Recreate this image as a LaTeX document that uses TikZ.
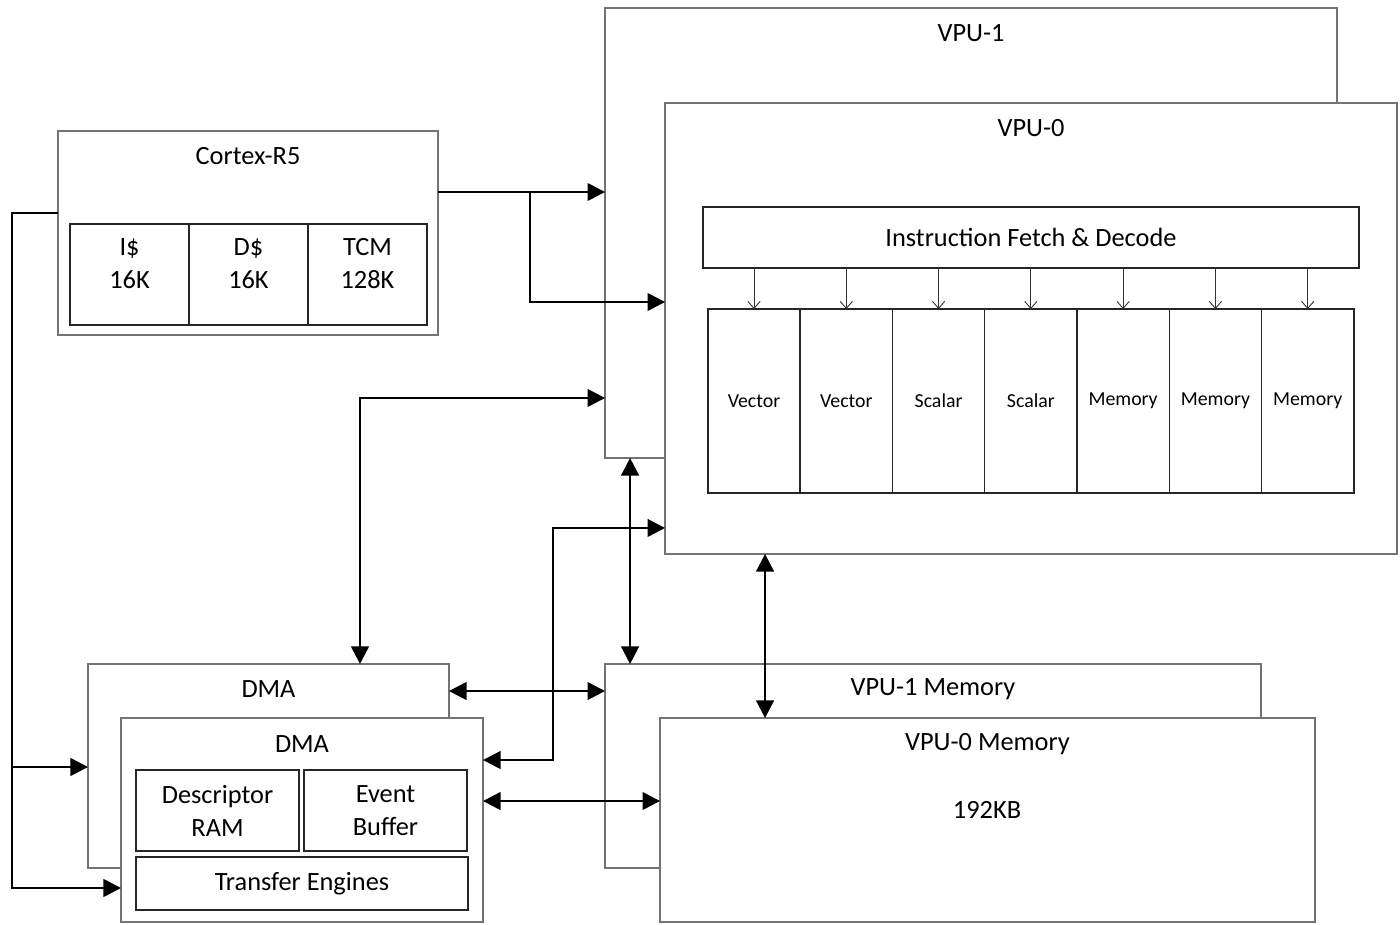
\documentclass[tikz,border=0pt]{standalone}
\usepackage{fontspec}
\setmainfont{Carlito}
\usetikzlibrary{positioning, arrows.meta}
\tikzset{
	box/.style= {
		rectangle,
		draw=black!55,
		line width=1.1pt,
		fill=white,
		inner sep=0, outer sep=0
	},
	part/.style= {
		rectangle,
		draw=black!85,
		line width=0.8pt,
		fill=white,
		align=center,
		inner sep=0, outer sep=0,
		font=\fontsize{15}{18.7}\selectfont
	},
	cache/.style={part, minimum width=2.38cm, minimum height=2.02cm, text depth=0.45cm},
	unit/.style={part, minimum width=1.846cm, minimum height=3.68cm, font=\fontsize{11.3}{13}\selectfont},
	title/.style={font=\fontsize{15}{18.7}\selectfont, inner sep=0},
	link/.style={line width=1.4pt, -{Triangle[length=10pt, width=10pt]}},
	both/.style={line width=1.4pt, {Triangle[length=10pt, width=10pt]}-{Triangle[length=10pt, width=10pt]}},
	feed/.style={line width=0.5pt, draw=black!80, -{Straight Barb[length=4pt, width=7pt]}},
}

\begin{document}
\begin{tikzpicture}[x=0.02cm, y=-0.02cm]
	\useasboundingbox (0,0) rectangle (1400,924);
	
	% VPU stack
	\node (vpu1)[box, minimum width=14.64cm, minimum height=9cm] at (971,233) {};
	\node (vpu1title)[title] at ([yshift=-0.5cm]vpu1.north) {VPU-1};
	\node (vpu0)[box, minimum width=14.64cm, minimum height=9.02cm] at (1031,328.5) {};
	\node (vpu0title)[title] at ([yshift=-0.5cm]vpu0.north) {VPU-0};
	\node (ifd)[part, minimum width=13.12cm, minimum height=1.22cm] at (1031,237.5) {Instruction Fetch \& Decode};
	
	\node (unit1)[unit] at (754,401) {Vector};
	\foreach[count=\i from 1] \j/\name in {2/Vector, 3/Scalar, 4/Scalar, 5/Memory, 6/Memory, 7/Memory}
	{
		\node (unit\j)[unit, right=0 of unit\i]{\name};
	}
	\foreach \i in {1,...,7}
	{
		\draw[feed] (ifd.south -| unit\i.north) to (unit\i.north);
	}
	
	% Cortex
	\node (cortex)[box, minimum width=7.6cm, minimum height=4.08cm] at (248,233) {};
	\node (cortextitle)[title] at ([yshift=-0.5cm]cortex.north) {Cortex-R5};
	\node (icache)[cache] at (129.5,274.5) {I\$\\16K};
	\node (dcache)[cache, right=0 of icache] {D\$\\16K};
	\node (tcm)[cache, right=0 of dcache] {TCM\\128K};
	
	% DMA stack
	\node (dmab)[box, minimum width=7.22cm, minimum height=4.08cm] at (268.5,766) {};
	\node (dmabtitle)[title] at ([yshift=-0.5cm]dmab.north) {DMA};
	\node (dmaf)[box, minimum width=7.24cm, minimum height=4.08cm] at (302,820) {};
	\node (dmaftitle)[title] at ([yshift=-0.52cm]dmaf.north) {DMA};
	\node (desc)[part, minimum width=3.26cm, minimum height=1.62cm] at (217.5,810.5) {Descriptor\\RAM};
	\node (event)[part, minimum width=3.26cm, minimum height=1.62cm, right=0.1cm of desc] {Event\\Buffer};
	\node (xfer)[part, minimum width=6.64cm, minimum height=1.06cm] at (302,883.5) {Transfer Engines};
	
	% memories
	\node (vpu1m)[box, minimum width=13.12cm, minimum height=4.08cm] at (933,766) {};
	\node (vpu1mtitle)[title] at ([yshift=-0.5cm]vpu1m.north) {VPU-1 Memory};
	\node (vpu0m)[box, minimum width=13.1cm, minimum height=4.08cm] at (987.5,820) {};
	\node (vpu0mtitle)[title] at ([yshift=-0.52cm]vpu0m.north) {VPU-0 Memory};
	\node (vpu0msize)[title] at (987,810) {192KB};
	
	% connections
	\coordinate (split) at (530,192);
	\coordinate (bus) at (12,767);
	\draw[link] (split -| cortex.east) to (split -| vpu1.west);
	\draw[link] (split) |- ([yshift=0.53cm]vpu0.west);
	\draw[link] ([yshift=0.4cm]cortex.west) -| (bus) -- (bus -| dmab.west);
	\draw[link] (bus) |- ([yshift=-1.36cm]dmaf.west);
	\draw[both] ([xshift=1.83cm]dmab.north) |- ([yshift=-3.3cm]vpu1.west);
	\draw[both] ([yshift=1.5cm]dmab.east) -- ([yshift=1.5cm]dmab.east -| vpu1m.west);
	\draw[both] ([yshift=1.2cm]dmaf.east) -- ++(1.4cm,0) |- ([yshift=-3.99cm]vpu0.west);
	\draw[both] ([yshift=0.38cm]dmaf.east) -- ([yshift=0.38cm]dmaf.east -| vpu0m.west);
	\draw[both] ([xshift=-6.06cm]vpu1m.north) -- ([xshift=-6.06cm]vpu1m.north |- vpu1.south);
	\draw[both] ([xshift=-4.45cm]vpu0m.north) -- ([xshift=-4.45cm]vpu0m.north |- vpu0.south);
	
\end{tikzpicture}
\end{document}
